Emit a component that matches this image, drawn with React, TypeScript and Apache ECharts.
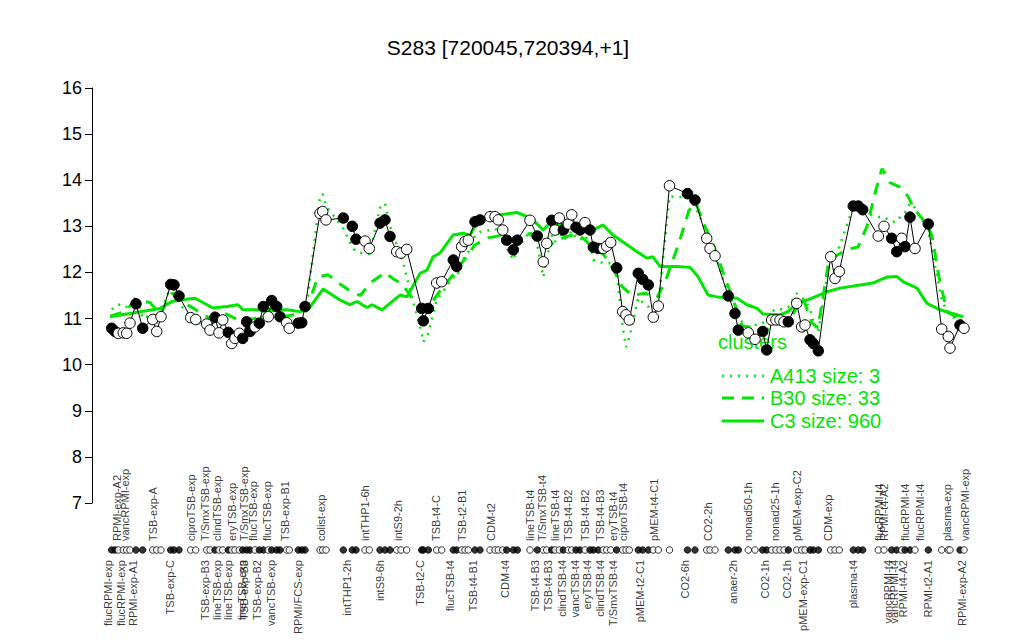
import React, { useEffect, useRef } from 'react';
import * as echarts from 'echarts';

const FONT = '"Liberation Sans", Arial, Helvetica, sans-serif';
const GREEN = '#00e600';

// sample positions along the x axis (plot units)
const samplePos = [
  19.7, 23, 26.3, 31.3, 34.7, 38, 44, 50.7, 60.7, 64.7,
  69, 78.7, 82, 87, 98.7, 103.7, 114.7, 118, 123, 127,
  130.7, 136.3, 139.7, 143, 147.3, 150.7, 154.7, 158, 163, 167.3,
  171.3, 176.3, 179.7, 184.7, 188, 194.7, 197.3, 206.3, 209.7, 213,
  228, 230.7, 234, 251.3, 260.3, 264, 273, 277.3, 288, 293,
  298, 304.7, 309, 314.7, 329.7, 331.3, 336.3, 344.7, 349.7, 361.3,
  364.7, 369.7, 373, 376.3, 383, 388, 398, 403, 406.3, 410.7,
  414.7, 421.3, 425.3, 438, 445.3, 451.3, 454.7, 459.7, 463, 467.3,
  471.3, 476.3, 479.7, 484, 488, 493, 498, 501.3, 506.3, 511.3,
  514.7, 518.7, 524.7, 530.7, 534, 537.3, 546.3, 550.7, 556.3, 561.3,
  566.3, 577.5, 595.5, 603, 614.7, 618, 623, 636.3, 643, 646.3,
  656.3, 663, 670.7, 674.7, 679.7, 684, 688, 692, 696.3, 704.7,
  709.7, 713, 718, 721.3, 726.3, 738.7, 743, 747.3, 761.3, 766.3,
  770.7, 786.3, 792, 799.7, 804.7, 809.7, 813, 818, 823, 836.3,
  849.7, 856.3, 858, 868, 872,
];

// S283 expression per sample
const sampleExpr = [
  10.79, 10.72, 10.68, 10.69, 10.68, 10.90, 11.32, 10.79, 10.98, 10.72,
  11.04, 11.74, 11.73, 11.49, 11.02, 10.98, 10.88, 10.75, 11.03, 10.69,
  10.97, 10.70, 10.46, 10.57, 10.68, 10.57, 10.93, 10.72, 10.82, 10.90,
  11.26, 11.04, 11.39, 11.26, 11.04, 10.91, 10.79, 10.90, 10.91, 11.26,
  13.28, 13.32, 13.14, 13.18, 13.0, 12.72, 12.68, 12.52, 13.07, 13.14,
  12.78, 12.45, 12.42, 12.5, 11.22, 10.95, 11.22, 11.77, 11.80, 12.27,
  12.13, 12.56, 12.67, 12.70, 13.10, 13.14, 13.21, 13.21, 13.14, 12.92,
  12.70, 12.49, 12.70, 13.13, 12.79, 12.23, 12.63, 13.13, 12.92, 13.18,
  12.92, 13.05, 13.25, 12.98, 12.92, 13.08, 12.92, 12.55, 12.52, 12.52,
  12.57, 12.65, 12.10, 11.15, 11.08, 10.97, 11.98, 11.85, 11.73, 11.03,
  11.27, 13.88, 13.71, 13.57, 12.74, 12.52, 12.36, 11.49, 11.11, 10.75,
  10.69, 10.55, 10.72, 10.32, 10.97, 10.97, 10.97, 10.93, 10.93, 11.33,
  10.82, 10.86, 10.54, 10.46, 10.30, 12.34, 11.87, 12.02, 13.44, 13.44,
  13.36, 12.79, 13.0, 12.74, 12.45, 12.74, 12.56, 13.20, 12.52, 13.05,
  10.77, 10.61, 10.36, 10.86, 10.79,
];

// 1 = filled marker, 0 = open marker
const sampleFilled = [
  1, 1, 0, 0, 0, 0, 1, 1, 0, 0,
  0, 1, 1, 1, 0, 0, 0, 0, 1, 0,
  0, 1, 0, 0, 0, 1, 1, 1, 0, 1,
  1, 0, 1, 1, 1, 0, 0, 1, 1, 1,
  0, 0, 0, 1, 1, 1, 0, 0, 1, 1,
  1, 0, 0, 0, 1, 1, 1, 0, 0, 1,
  1, 0, 0, 0, 1, 1, 0, 0, 0, 0,
  1, 1, 1, 0, 1, 0, 0, 1, 0, 0,
  1, 0, 0, 1, 1, 0, 1, 1, 1, 0,
  0, 0, 1, 0, 0, 0, 1, 1, 1, 0,
  0, 0, 1, 1, 0, 0, 0, 1, 1, 1,
  0, 0, 1, 1, 0, 0, 0, 0, 1, 0,
  0, 0, 1, 1, 1, 0, 0, 0, 1, 1,
  1, 0, 0, 1, 1, 0, 1, 1, 0, 1,
  0, 0, 0, 1, 0,
];

// cluster A413 (size 3) mean profile, per sample
const a413 = [
  11.2, 11.25, 11.3, 11.3, 11.25, 11.2, 11.5, 11.0, 11.1, 10.9,
  11.15, 11.7, 11.6, 11.35, 11.0, 10.95, 10.8, 10.7, 11.0, 10.75,
  10.9, 10.7, 10.55, 10.6, 10.7, 10.6, 10.85, 10.75, 10.85, 10.9,
  11.15, 11.05, 11.3, 11.2, 11.0, 10.85, 10.8, 10.85, 10.9, 11.0,
  13.65, 13.7, 13.45, 12.95, 12.55, 12.45, 12.4, 12.4, 13.4, 13.5,
  13.0, 12.6, 12.4, 11.9, 10.68, 10.49, 10.68, 11.4, 11.55, 11.9,
  11.88, 12.2, 12.35, 12.45, 12.8, 12.88, 12.92, 12.95, 12.9, 12.7,
  12.53, 12.27, 12.5, 12.9, 12.6, 11.9, 12.3, 12.8, 12.66, 12.9,
  12.7, 12.8, 12.9, 12.77, 12.7, 12.8, 12.6, 12.27, 12.25, 12.2,
  12.2, 12.2, 12.0, 10.82, 10.38, 10.6, 11.45, 11.35, 11.26, 11.04,
  11.3, 13.65, 13.62, 13.43, 12.9, 12.7, 12.4, 11.5, 11.3, 11.0,
  10.82, 10.86, 10.9, 11.0, 11.15, 11.2, 11.2, 11.2, 11.25, 11.55,
  11.45, 11.4, 11.2, 10.95, 10.7, 12.42, 12.49, 12.55, 13.43, 13.4,
  13.3, 13.2, 13.2, 13.1, 13.1, 13.25, 13.3, 13.5, 13.4, 12.9,
  11.4, 11.1, 11.05, 10.97, 10.95,
];

// cluster B30 (size 33) profile vertices
const b30Pos = [
  18, 33, 43, 58, 68, 80, 88, 103, 118, 134, 148, 163, 178, 193, 208, 216,
  226, 236, 248, 258, 268, 280, 293, 302, 310, 320, 330, 338, 348, 363, 373,
  383, 396, 408, 423, 438, 448, 455, 465, 478, 488, 498, 512, 523, 530, 540,
  553, 565, 574, 587, 597, 604, 613, 622, 633, 643, 650, 663, 673, 683, 698,
  711, 720, 726, 731, 737, 755, 766, 775, 784, 790, 798, 808, 816, 823, 833,
  840, 847, 855, 867, 873,
];
const b30Val = [
  11.05, 11.15, 11.4, 11.35, 11.1, 11.55, 11.4, 11.2, 11.0, 11.1, 10.95, 11.0, 11.2, 11.05, 11.1, 11.3,
  11.9, 11.95, 11.75, 11.6, 11.5, 11.8, 12.0, 11.85, 11.75, 11.45, 11.2, 11.3, 11.6, 12.0, 12.3,
  12.6, 12.75, 12.8, 12.7, 12.85, 12.6, 12.55, 12.7, 12.8, 12.8, 12.6, 12.38, 12.0, 11.7, 11.5,
  11.55, 11.45, 11.85, 12.64, 13.35, 13.5, 13.0, 12.57, 11.88, 11.3, 10.84, 10.8, 10.7, 10.95, 11.0,
  11.45, 10.9, 10.8, 11.47, 12.27, 12.5, 12.55, 13.0, 13.8, 14.25, 13.95, 13.85, 13.65, 13.35, 13.1,
  12.8, 11.9, 11.15, 11.0, 10.95,
];

// cluster C3 (size 960) profile vertices
const c3Pos = [
  18, 41, 68, 80, 88, 103, 121, 135, 146, 151, 165, 181, 195, 208, 216, 231,
  248, 258, 265, 275, 280, 290, 308, 315, 328, 335, 341, 348, 361, 371, 378,
  385, 391, 408, 425, 435, 441, 451, 458, 465, 475, 491, 501, 511, 521, 535,
  545, 555, 561, 568, 585, 598, 606, 616, 625, 645, 655, 665, 671, 688, 696,
  705, 715, 735, 748, 781, 788, 795, 805, 811, 825, 835, 848, 871,
];
const c3Val = [
  11.04, 11.12, 11.22, 11.37, 11.40, 11.44, 11.23, 11.26, 11.30, 11.19, 11.19, 11.19, 11.19, 11.15, 11.19, 11.64,
  11.40, 11.30, 11.37, 11.24, 11.30, 11.19, 11.51, 11.47, 11.98, 12.05, 12.34, 12.42, 12.81, 12.85, 12.81,
  13.07, 13.18, 13.25, 13.30, 13.21, 13.14, 12.92, 13.07, 13.03, 13.07, 12.89, 12.92, 13.03, 12.81, 12.60,
  12.45, 12.31, 12.34, 12.13, 12.13, 12.11, 11.91, 11.51, 11.47, 11.44, 11.30, 11.22, 11.10, 11.08, 11.15,
  11.33, 11.40, 11.58, 11.66, 11.77, 11.84, 11.90, 11.91, 11.80, 11.66, 11.33, 11.19, 11.04,
];

// sample labels shown above the marker strip
const topLabelNames = [
  'RPMI-exp-A2', 'vancRPMI-exp', 'TSB-exp-A', 'ciproTSB-exp', 'T/SmxTSB-exp', 'clindTSB-exp',
  'eryTSB-exp', 'T/SmxTSB-exp', 'flucTSB-exp', 'flucTSB-exp', 'TSB-exp-B1', 'colist-exp',
  'intTHP1-6h', 'intS9-2h', 'TSB-t4-C', 'TSB-t2-B1', 'CDM-t2', 'lineTSB-t4', 'T/SmxTSB-t4',
  'lineTSB-t4', 'TSB-t4-B2', 'TSB-t4-B2', 'TSB-t4-B3', 'eryTSB-t4', 'ciproTSB-t4', 'pMEM-t4-C1',
  'CO2-2h', 'nonad50-1h', 'nonad25-1h', 'pMEM-exp-C2', 'CDM-exp', 'flucRPMI-t4', 'RPMI-t4-A2',
  'flucRPMI-t4', 'flucRPMI-t4', 'plasma-exp', 'vancRPMI-exp',
];
const topLabelPos = [
  25, 33, 61, 99, 113, 125,
  140, 152, 161, 175, 193, 229,
  273, 306, 344, 370, 399, 438, 450,
  463, 476, 493, 508, 521, 531, 562,
  616, 656, 683, 705, 736, 787, 792,
  813, 828, 855, 873,
];

// sample labels shown below the marker strip
const bottomLabelNames = [
  'flucRPMI-exp', 'flucRPMI-exp', 'RPMI-exp-A1', 'TSB-exp-C', 'TSB-exp-B3', 'lineTSB-exp',
  'lineTSB-exp', 'lineTSB-exp', 'TSB-exp-B3', 'TSB-exp-B2', 'vancTSB-exp', 'RPMI/FCS-exp',
  'intTHP1-2h', 'intS9-6h', 'TSB-t2-C', 'flucTSB-t4', 'TSB-t4-B1', 'CDM-t4', 'TSB-t4-B3',
  'TSB-t4-B3', 'clindTSB-t4', 'vancTSB-t4', 'eryTSB-t4', 'clindTSB-t4', 'T/SmxTSB-t4',
  'pMEM-t2-C1', 'CO2-6h', 'anaer-2h', 'CO2-1h', 'CO2-1h', 'pMEM-exp-C1', 'plasma-t4',
  'vancRPMI-t4', 'vancRPMI-t4', 'RPMI-t4-A2', 'RPMI-t2-A1', 'RPMI-exp-A2',
];
const bottomLabelPos = [
  16, 29, 41, 78, 113, 125,
  136, 150, 152, 165, 179, 206,
  255, 288, 328, 358, 381, 413, 443,
  456, 470, 483, 495, 508, 521,
  548, 593, 641, 673, 695, 711, 761,
  796, 802, 811, 836, 870,
];

const legendNames = ['A413 size: 3', 'B30 size: 33', 'C3 size: 960'];

const markerItem = (x: number, y: number, filled: number) => ({
  value: [x, y],
  itemStyle: { color: filled ? '#000' : '#fff', borderColor: '#000', borderWidth: 1 },
});

const greenLine = (name: string, data: number[][], type: any, width: number, z: number) => ({
  name,
  type: 'line',
  xAxisIndex: 0,
  yAxisIndex: 0,
  data,
  symbol: 'none',
  silent: true,
  z,
  lineStyle: { color: GREEN, width, type },
});

const labelSeries = (names: string[], pos: number[], y: number, align: string) => ({
  type: 'scatter',
  xAxisIndex: 1,
  yAxisIndex: 1,
  symbolSize: 0,
  silent: true,
  clip: false,
  data: names.map((n, i) => ({ name: n, value: [pos[i], y] })),
  label: {
    show: true,
    formatter: '{b}',
    position: 'inside',
    rotate: 90,
    align,
    verticalAlign: 'middle',
    fontSize: 11,
    fontFamily: FONT,
    color: '#000',
  },
});

const legendY = [376, 398, 421];
const legendDash: any[] = [[2, 6], [12, 8], null];
const legendWidth = [2.5, 3, 3];

const option: any = {
  animation: false,
  backgroundColor: '#fff',
  textStyle: { fontFamily: FONT },
  grid: [
    { left: 92, top: 88, width: 889, height: 415 },
    { left: 92, top: 540, width: 889, height: 20 },
  ],
  xAxis: [
    { gridIndex: 0, type: 'value', min: 0, max: 889, show: false },
    { gridIndex: 1, type: 'value', min: 0, max: 889, show: false },
  ],
  yAxis: [
    {
      gridIndex: 0,
      type: 'value',
      min: 7,
      max: 16,
      interval: 1,
      axisLine: { show: true, lineStyle: { color: '#000', width: 1 } },
      axisTick: { show: true, inside: false, length: 7, lineStyle: { color: '#000' } },
      axisLabel: { color: '#000', fontSize: 18, fontFamily: FONT, margin: 10 },
      splitLine: { show: false },
    },
    { gridIndex: 1, type: 'value', min: -1, max: 1, show: false },
  ],
  series: [
    greenLine('C3', c3Pos.map((x, i) => [x, c3Val[i]]), 'solid', 3, 1),
    greenLine('B30', b30Pos.map((x, i) => [x, b30Val[i]]), [12, 9], 3, 2),
    greenLine('A413', samplePos.map((x, i) => [x, a413[i]]), [2, 6], 2.5, 3),
    {
      name: 'S283',
      type: 'line',
      xAxisIndex: 0,
      yAxisIndex: 0,
      z: 5,
      silent: true,
      symbol: 'circle',
      symbolSize: 10.5,
      showSymbol: true,
      lineStyle: { color: '#000', width: 1 },
      data: samplePos.map((x, i) => markerItem(x, sampleExpr[i], sampleFilled[i])),
    },
    {
      name: 'strip',
      type: 'scatter',
      xAxisIndex: 1,
      yAxisIndex: 1,
      symbol: 'circle',
      symbolSize: 6.5,
      silent: true,
      data: samplePos.map((x, i) => markerItem(x, 0, sampleFilled[i])),
    },
    labelSeries(topLabelNames, topLabelPos, 0.9, 'left'),
    labelSeries(bottomLabelNames, bottomLabelPos, -1, 'right'),
  ],
  graphic: [
    {
      type: 'text',
      x: 508,
      y: 47,
      style: {
        text: 'S283 [720045,720394,+1]',
        font: `21px ${FONT}`,
        fill: '#000',
        textAlign: 'center',
        textVerticalAlign: 'middle',
      },
    },
    {
      type: 'text',
      x: 718,
      y: 342,
      style: { text: 'clusters', font: `20px ${FONT}`, fill: GREEN, textVerticalAlign: 'middle' },
    },
    ...legendNames.map((n, i) => ({
      type: 'group',
      children: [
        {
          type: 'line',
          shape: { x1: 722, y1: legendY[i], x2: 764, y2: legendY[i] },
          style: { stroke: GREEN, lineWidth: legendWidth[i], lineDash: legendDash[i] },
        },
        {
          type: 'text',
          x: 770,
          y: legendY[i],
          style: { text: n, font: `20px ${FONT}`, fill: GREEN, textVerticalAlign: 'middle' },
        },
      ],
    })),
  ],
};

export default function App() {
  const ref = useRef<HTMLDivElement>(null);
  useEffect(() => {
    const chart = echarts.init(ref.current as HTMLDivElement, undefined, { renderer: 'svg' });
    chart.setOption(option);
    return () => chart.dispose();
  }, []);
  return (
    <div
      ref={ref}
      style={{ position: 'absolute', left: 0, top: 0, width: 1024, height: 640, background: '#fff' }}
    />
  );
}
